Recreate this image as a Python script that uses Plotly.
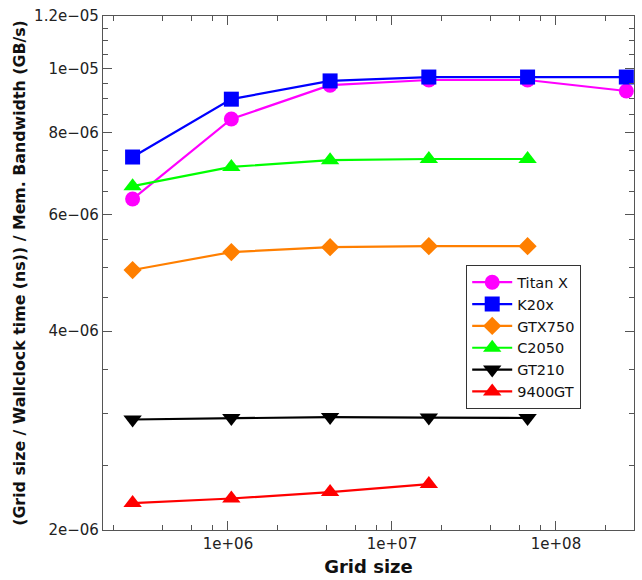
import plotly.graph_objects as go
import numpy as np

grid = [262144, 1048576, 4194304, 16777216, 67108864, 268435456]

titan_x = [6.34e-6, 8.38e-6, 9.43e-6, 9.60e-6, 9.60e-6, 9.24e-6]
k20x = [7.34e-6, 8.98e-6, 9.57e-6, 9.70e-6, 9.70e-6, 9.70e-6]
gtx750 = [4.95e-6, 5.27e-6, 5.36e-6, 5.38e-6, 5.38e-6]
c2050 = [6.63e-6, 7.09e-6, 7.26e-6, 7.29e-6, 7.29e-6]
gt210 = [2.94e-6, 2.955e-6, 2.965e-6, 2.96e-6, 2.955e-6]
gt9400 = [2.197e-6, 2.232e-6, 2.283e-6, 2.347e-6]

series = [
    ("Titan X", titan_x, "#ff00ff", "circle", 15),
    ("K20x", k20x, "#0000ff", "square", 15),
    ("GTX750", gtx750, "#ff7f00", "diamond", 14),
    ("C2050", c2050, "#00ff00", "triangle-up", 16),
    ("GT210", gt210, "#000000", "triangle-down", 16),
    ("9400GT", gt9400, "#ff0000", "triangle-up", 16),
]

y_major = [2e-6, 4e-6, 6e-6, 8e-6, 1e-5, 1.2e-5]
y_major_text = ["2e\u221206", "4e\u221206", "6e\u221206", "8e\u221206", "1e\u221205", "1.2e\u221205"]
y_minor = [2.5e-6, 3e-6, 3.5e-6, 4.5e-6, 5e-6, 5.5e-6, 6.5e-6, 7e-6, 7.5e-6,
           8.5e-6, 9e-6, 9.5e-6, 1.05e-5, 1.1e-5, 1.15e-5]
x_major = [1e6, 1e7, 1e8]
x_major_text = ["1e+06", "1e+07", "1e+08"]
x_minor = [2e5, 4e5, 6e5, 8e5, 2e6, 4e6, 6e6, 8e6, 2e7, 4e7, 6e7, 8e7, 2e8]

fig = go.Figure()
for name, vals, color, sym, size in series:
    fig.add_trace(go.Scatter(
        x=grid[:len(vals)], y=vals, name=name, mode="lines+markers",
        line=dict(color=color, width=2.2),
        marker=dict(symbol=sym, size=size, color=color, line=dict(width=0)),
    ))

axis_common = dict(
    showline=True, linecolor="#555555", linewidth=1.3, mirror="ticks",
    ticks="inside", ticklen=9, tickcolor="#555555", tickwidth=1.3,
    showgrid=False, zeroline=False, automargin=False,
    tickfont=dict(family="DejaVu Sans", size=15, color="#222222"),
)

fig.update_xaxes(
    type="log", range=[np.log10(1.73e5), np.log10(2.99e8)],
    tickmode="array", tickvals=x_major, ticktext=x_major_text,
    minor=dict(tickmode="array", tickvals=x_minor, ticks="inside", ticklen=5,
               tickcolor="#555555", tickwidth=1.1, showgrid=False),
    title=dict(text="<b>Grid size</b>", font=dict(family="DejaVu Sans", size=18, color="#111111"), standoff=8),
    **axis_common,
)
fig.update_yaxes(
    type="log", range=[np.log10(2e-6), np.log10(1.2e-5)],
    tickmode="array", tickvals=y_major, ticktext=y_major_text,
    minor=dict(tickmode="array", tickvals=y_minor, ticks="inside", ticklen=5,
               tickcolor="#555555", tickwidth=1.1, showgrid=False),
    title=dict(text="<b>(Grid size / Wallclock time (ns)) / Mem. Bandwidth (GB/s)</b>",
               font=dict(family="DejaVu Sans", size=15.8, color="#111111"), standoff=4),
    **axis_common,
)

fig.update_layout(
    width=642, height=580,
    margin=dict(l=103, r=8, t=16, b=50),
    plot_bgcolor="white", paper_bgcolor="white",
    showlegend=True,
    legend=dict(
        x=0.684, y=0.515, xanchor="left", yanchor="top",
        bordercolor="#333333", borderwidth=1, bgcolor="white",
        font=dict(family="DejaVu Sans", size=14.5, color="#111111"),
        itemwidth=40, tracegroupgap=0,
    ),
)

fig.write_html("out.html")
